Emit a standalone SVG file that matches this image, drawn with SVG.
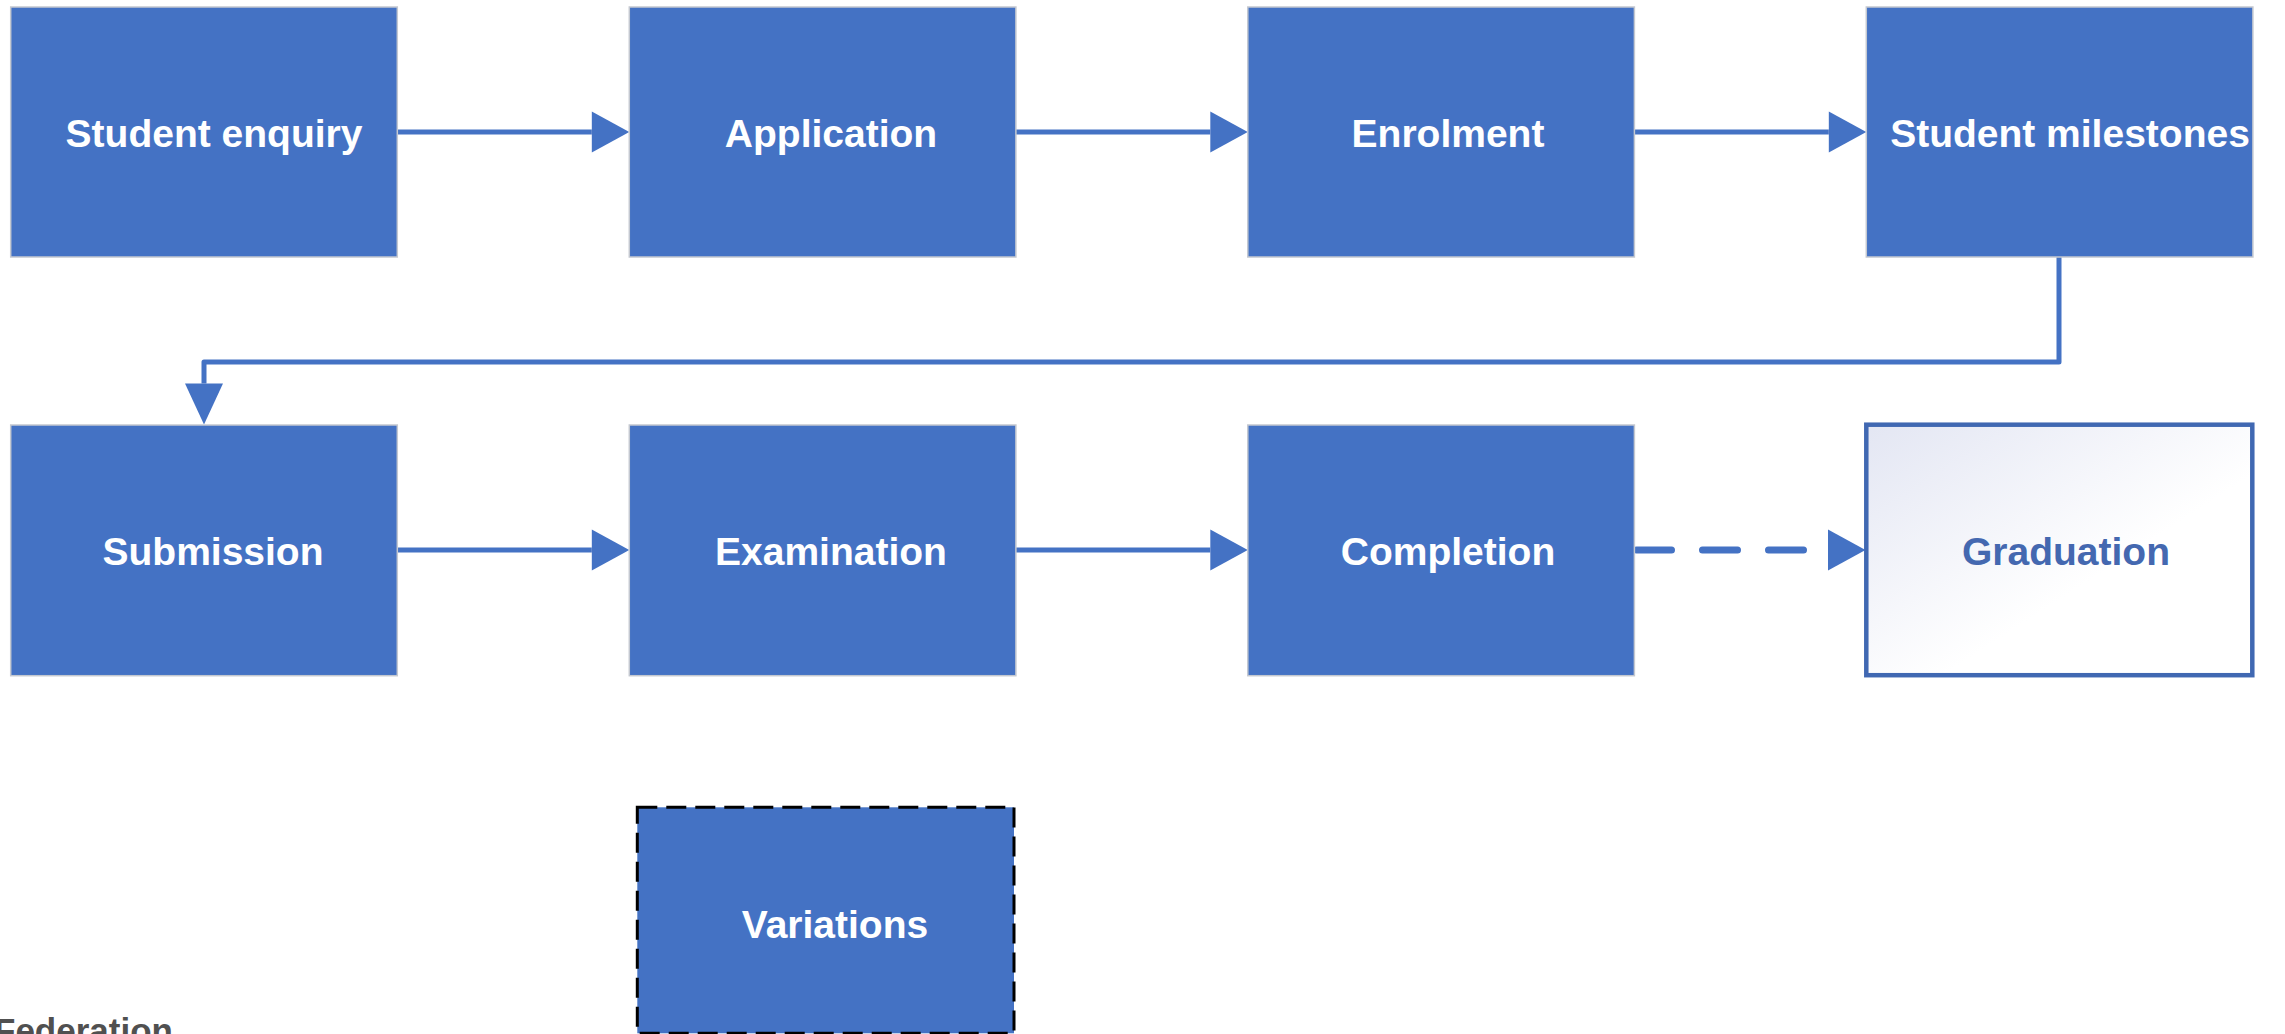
<svg xmlns="http://www.w3.org/2000/svg" width="2285" height="1034" viewBox="0 0 2285 1034">
<style>
.box{fill:#4472C4;stroke:#C4C8D0;stroke-width:1.5}
.lbl{font-family:"Liberation Sans",Arial,sans-serif;font-weight:bold;font-size:39px;fill:#FFFFFF;text-anchor:middle}
.conn{fill:none;stroke:#4472C4;stroke-width:5}
.dash{stroke-width:7;stroke-linecap:round;stroke-dasharray:35 31}
</style>
<defs>
<marker id="arr" markerUnits="userSpaceOnUse" markerWidth="38" markerHeight="42" refX="0" refY="20.5" orient="auto" overflow="visible">
<path d="M0,0 L37.5,20.5 L0,41 z" fill="#4472C4"/>
</marker>
<marker id="arrDown" markerUnits="userSpaceOnUse" markerWidth="42" markerHeight="40" refX="0" refY="19" orient="auto" overflow="visible">
<path d="M0,0 L41,19 L0,38 z" fill="#4472C4"/>
</marker>
<linearGradient id="gradFill" x1="0" y1="0" x2="1" y2="1">
<stop offset="0" stop-color="#E3E6F3"/>
<stop offset="0.6" stop-color="#FFFFFF"/>
<stop offset="1" stop-color="#FFFFFF"/>
</linearGradient>
</defs>

<g id="connectors">
<path class="conn" d="M397.3,132 H591.8" marker-end="url(#arr)"/>
<path class="conn" d="M1015.9,132 H1210.3" marker-end="url(#arr)"/>
<path class="conn" d="M1634.4,132 H1828.8" marker-end="url(#arr)"/>
<path class="conn" d="M2059,257 V362 H204 V383.5" stroke-linejoin="round" marker-end="url(#arrDown)"/>
<path class="conn" d="M397.3,550 H591.8" marker-end="url(#arr)"/>
<path class="conn" d="M1015.9,550 H1210.3" marker-end="url(#arr)"/>
<path class="conn dash" d="M1636.5,550 H1828" marker-end="url(#arr)"/>
</g>

<g id="node-student-enquiry">
<rect class="box" x="10.7" y="7" width="386.6" height="250"/>
<text class="lbl" x="214" y="147">Student enquiry</text>
</g>
<g id="node-application">
<rect class="box" x="629.3" y="7" width="386.6" height="250"/>
<text class="lbl" x="831" y="147">Application</text>
</g>
<g id="node-enrolment">
<rect class="box" x="1247.8" y="7" width="386.6" height="250"/>
<text class="lbl" x="1448" y="147">Enrolment</text>
</g>
<g id="node-student-milestones">
<rect class="box" x="1866.3" y="7" width="386.6" height="250"/>
<text class="lbl" x="2070" y="147">Student milestones</text>
</g>
<g id="node-submission">
<rect class="box" x="10.7" y="425" width="386.6" height="250.7"/>
<text class="lbl" x="213" y="565">Submission</text>
</g>
<g id="node-examination">
<rect class="box" x="629.3" y="425" width="386.6" height="250.7"/>
<text class="lbl" x="831" y="565">Examination</text>
</g>
<g id="node-completion">
<rect class="box" x="1247.8" y="425" width="386.6" height="250.7"/>
<text class="lbl" x="1448" y="565">Completion</text>
</g>
<g id="node-graduation">
<rect x="1866.3" y="424.7" width="386" height="250.5" fill="url(#gradFill)" stroke="#4068B2" stroke-width="4.5"/>
<text class="lbl" x="2066" y="565" style="fill:#4468B0">Graduation</text>
</g>
<g id="node-variations">
<rect x="637.3" y="807.3" width="376.7" height="226" fill="#4472C4" stroke="#000000" stroke-width="3" stroke-dasharray="20 9"/>
<text class="lbl" x="835" y="938">Variations</text>
</g>
<text x="-6" y="1043" font-family="Liberation Sans, Arial, sans-serif" font-weight="bold" font-size="35" fill="#505050">Federation</text>
</svg>
